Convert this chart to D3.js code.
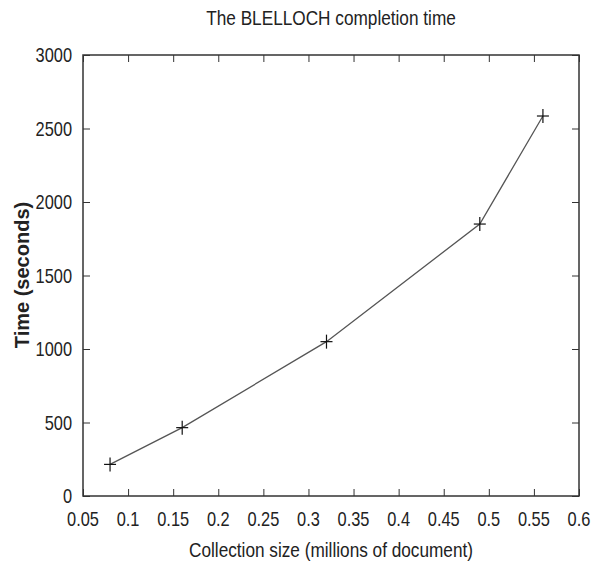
<!doctype html>
<html lang="en">
<head>
<meta charset="utf-8">
<title>The BLELLOCH completion time</title>
<script src="https://d3js.org/d3.v7.min.js"></script>
<style>
body { margin: 0; background: #fff; }
.narrow { font-family: "Liberation Sans", Arial, sans-serif; fill: #222; }
.axis path, .axis line { stroke: #333; }
</style>
</head>
<body>
<div id="chart"></div>
<script>
// data
var sizes = [0.08, 0.16, 0.32, 0.49, 0.56];
var times = [215, 465, 1050, 1850, 2585];
var xTicks = [0.05, 0.1, 0.15, 0.2, 0.25, 0.3, 0.35, 0.4, 0.45, 0.5, 0.55, 0.6];
var yTicks = [0, 500, 1000, 1500, 2000, 2500, 3000];

var W = 601, H = 568;
var margin = { top: 55, right: 22, bottom: 72, left: 83 };
var width = W - margin.left - margin.right,
    height = H - margin.top - margin.bottom;
var squeeze = 0.82; // the original uses a narrow font

var svg = d3.select("#chart").append("svg")
    .attr("width", W).attr("height", H);

var g = svg.append("g")
    .attr("transform", "translate(" + margin.left + "," + margin.top + ")");

var x = d3.scaleLinear().domain([0.05, 0.6]).range([0, width]);
var y = d3.scaleLinear().domain([0, 3000]).range([height, 0]);

// frame
g.append("rect")
    .attr("width", width).attr("height", height)
    .attr("fill", "none").attr("stroke", "#333").attr("stroke-width", 1.5);

// inward ticks on all four sides
var tickLen = 7;
g.append("g").attr("class", "axis")
    .attr("transform", "translate(0," + height + ")")
    .call(d3.axisTop(x).tickValues(xTicks).tickSize(tickLen).tickFormat(""))
    .call(function(s) { s.select(".domain").remove(); });
g.append("g").attr("class", "axis")
    .call(d3.axisBottom(x).tickValues(xTicks).tickSize(tickLen).tickFormat(""))
    .call(function(s) { s.select(".domain").remove(); });
g.append("g").attr("class", "axis")
    .call(d3.axisRight(y).tickValues(yTicks).tickSize(tickLen).tickFormat(""))
    .call(function(s) { s.select(".domain").remove(); });
g.append("g").attr("class", "axis")
    .attr("transform", "translate(" + width + ",0)")
    .call(d3.axisLeft(y).tickValues(yTicks).tickSize(tickLen).tickFormat(""))
    .call(function(s) { s.select(".domain").remove(); });

// tick labels
g.selectAll(".xlab").data(xTicks).enter().append("text")
    .attr("class", "narrow")
    .attr("transform", function(d) { return "translate(" + x(d) + "," + (height + 30) + ") scale(" + squeeze + ",1)"; })
    .attr("text-anchor", "middle")
    .style("font-size", "20px")
    .text(function(d) { return d; });

g.selectAll(".ylab").data(yTicks).enter().append("text")
    .attr("class", "narrow")
    .attr("transform", function(d) { return "translate(-11," + (y(d) + 7) + ") scale(" + squeeze + ",1)"; })
    .attr("text-anchor", "end")
    .style("font-size", "20px")
    .text(function(d) { return d; });

// line and markers
var line = d3.line()
    .x(function(d, i) { return x(sizes[i]); })
    .y(function(d) { return y(d); });

g.append("path")
    .datum(times)
    .attr("d", line)
    .attr("fill", "none")
    .attr("stroke", "#555")
    .attr("stroke-width", 1.3);

var m = 6;
var marks = g.selectAll(".mark").data(times).enter().append("g")
    .attr("transform", function(d, i) { return "translate(" + x(sizes[i]) + "," + y(d) + ")"; });
marks.append("line").attr("x1", -m).attr("x2", m).attr("stroke", "#111").attr("stroke-width", 1.2);
marks.append("line").attr("y1", -m - 1).attr("y2", m + 1).attr("stroke", "#111").attr("stroke-width", 1.2);

// titles
svg.append("text")
    .attr("class", "narrow")
    .attr("transform", "translate(331,25) scale(" + squeeze + ",1)")
    .attr("text-anchor", "middle")
    .style("font-size", "21px")
    .text("The BLELLOCH completion time");

svg.append("text")
    .attr("class", "narrow")
    .attr("transform", "translate(" + (margin.left + width / 2) + ",557) scale(" + squeeze + ",1)")
    .attr("text-anchor", "middle")
    .style("font-size", "21px")
    .text("Collection size (millions of document)");

svg.append("text")
    .attr("transform", "translate(29,275) rotate(-90)")
    .attr("text-anchor", "middle")
    .style("font-family", "Liberation Sans, Arial, sans-serif")
    .style("font-weight", "bold")
    .style("font-size", "20px")
    .style("fill", "#222")
    .text("Time (seconds)");
</script>
</body>
</html>
